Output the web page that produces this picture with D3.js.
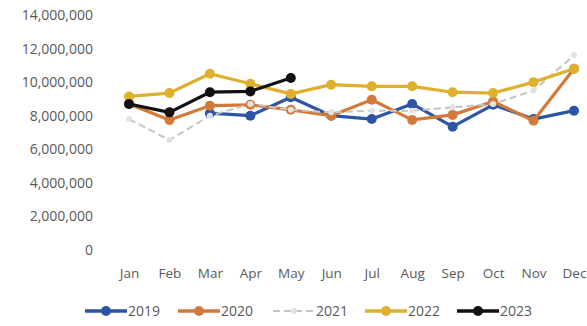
<!DOCTYPE html>
<html><head><meta charset="utf-8">
<script src="https://cdn.jsdelivr.net/npm/d3@7"></script>
<style>
html,body{margin:0;padding:0;background:#fff;}
svg{display:block;}
text{font-family:"Open Sans",sans-serif;fill:#595959;}
</style></head>
<body><svg id="c" width="587" height="326"></svg>
<script>
const months = ["Jan","Feb","Mar","Apr","May","Jun","Jul","Aug","Sep","Oct","Nov","Dec"];
const yTicks = [0,2000000,4000000,6000000,8000000,10000000,12000000,14000000];
const seriesNames = ["2019","2020","2021","2022","2023"];
const v2019 = [null,null,8150000,8000000,9100000,8000000,7800000,8700000,7350000,8650000,7800000,8300000];
const v2020 = [8700000,7750000,8600000,8650000,8350000,8000000,8950000,7750000,8050000,8850000,7700000,10800000];
const v2021 = [7800000,6550000,8000000,8700000,8350000,8200000,8300000,8300000,8500000,8700000,9500000,11600000];
const v2022 = [9150000,9350000,10500000,9900000,9300000,9850000,9750000,9750000,9400000,9350000,10000000,10800000];
const v2023 = [8700000,8200000,9400000,9450000,10250000];
const colors = ["#2D55A6","#D27A3A","#C4C4C4","#DFB02C","#111111"];

const values = [v2019,v2020,v2021,v2022,v2023];
const svg = d3.select("#c");
const x = d3.scalePoint().domain(months).range([129,574]);
const y = d3.scaleLinear().domain([0,14000000]).range([250,15]);

const yAxis = svg.append("g").attr("transform","translate(93,0)")
  .call(d3.axisLeft(y).tickValues(yTicks).tickSize(0).tickPadding(0).tickFormat(d3.format(",")));
yAxis.select(".domain").remove();
yAxis.selectAll("text").style("font-size","14px").style("font-family","'Open Sans',sans-serif").attr("fill","#595959");

const xAxis = svg.append("g").attr("transform","translate(0,268)")
  .call(d3.axisBottom(x).tickSize(0).tickPadding(0));
xAxis.select(".domain").remove();
xAxis.selectAll("text").style("font-size","13.5px").style("font-family","'Open Sans',sans-serif").attr("fill","#595959");

const line = d3.line().defined(d=>d.v!=null).x(d=>x(d.m)).y(d=>y(d.v));
seriesNames.forEach((name,i)=>{
  const pts = values[i].map((v,j)=>({m:months[j],v}));
  const g = svg.append("g");
  const gray = name==="2021";
  g.append("path").datum(pts).attr("d",line).attr("fill","none")
    .attr("stroke",colors[i]).attr("stroke-width",gray?2:3.2)
    .attr("stroke-dasharray",gray?"7,4":null).attr("stroke-linejoin","round");
  g.selectAll("circle").data(pts.filter(d=>d.v!=null)).enter().append("circle")
    .attr("cx",d=>x(d.m)).attr("cy",d=>y(d.v)).attr("r",gray?3:5)
    .attr("fill",gray?"#e2e2e2":colors[i]);
});

// legend
const legX = [85,178,273,365,457];
const lg = svg.append("g").attr("transform","translate(0,311)");
seriesNames.forEach((name,i)=>{
  const gray = name==="2021";
  lg.append("line").attr("x1",legX[i]).attr("x2",legX[i]+42).attr("y1",0).attr("y2",0)
    .attr("stroke",colors[i]).attr("stroke-width",gray?2:3.5).attr("stroke-dasharray",gray?"7,4":null);
  lg.append("circle").attr("cx",legX[i]+21).attr("cy",0).attr("r",gray?3:5).attr("fill",gray?"#e2e2e2":colors[i]);
  lg.append("text").attr("x",legX[i]+43).attr("y",0).attr("dy","0.35em")
    .style("font-size","14px").text(name);
});
</script></body></html>
